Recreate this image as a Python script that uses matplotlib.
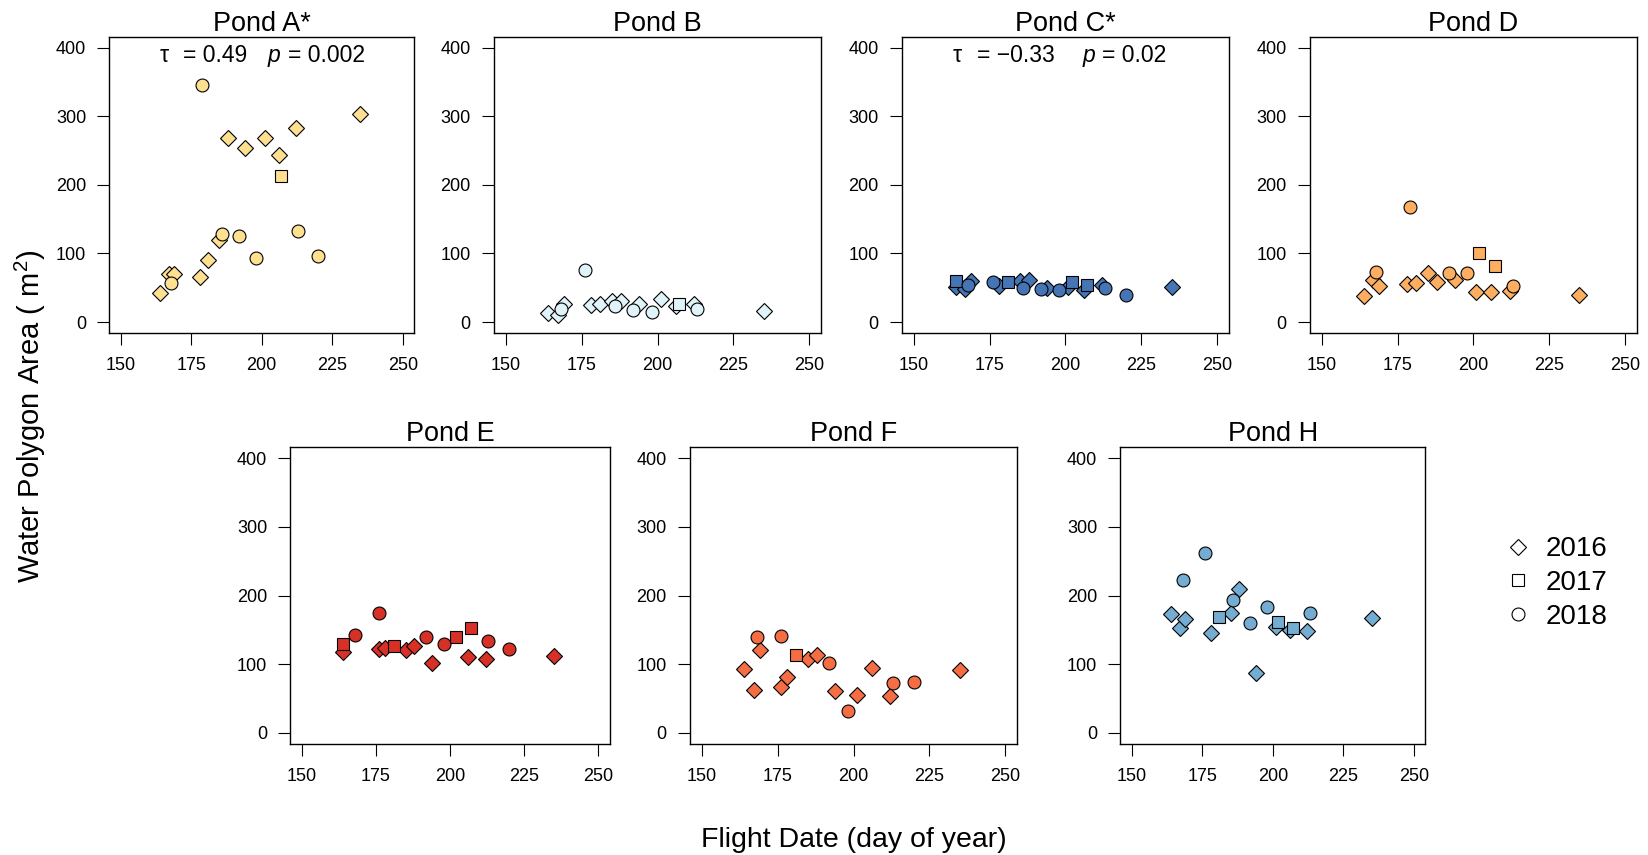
import matplotlib
matplotlib.use("Agg")
import matplotlib.pyplot as plt
from matplotlib.lines import Line2D

plt.rcParams['font.family'] = ['Liberation Sans', 'DejaVu Sans']
plt.rcParams['mathtext.fontset'] = 'custom'
plt.rcParams['mathtext.rm'] = 'Liberation Sans'
plt.rcParams['mathtext.it'] = 'Liberation Sans:italic'
plt.rcParams['mathtext.bf'] = 'Liberation Sans:bold'

# ---------------- data (day of year, water polygon area m^2) ----------------
pondA_d16 = [164, 167, 169, 178, 181, 185, 188, 194, 201, 206, 212, 235]
pondA_v16 = [43, 70, 70, 65, 91, 119, 268, 254, 268, 243, 283, 304]
pondA_d17 = [207]
pondA_v17 = [213]
pondA_d18 = [168, 179, 186, 192, 198, 213, 220]
pondA_v18 = [57, 346, 129, 126, 94, 133, 97]

pondB_d16 = [164, 167, 169, 178, 181, 185, 188, 194, 201, 206, 212, 235]
pondB_v16 = [13, 10, 26, 25, 26, 30, 31, 26, 34, 23, 27, 16]
pondB_d17 = [207]
pondB_v17 = [26]
pondB_d18 = [168, 176, 186, 192, 198, 213]
pondB_v18 = [19, 76, 24, 17, 15, 19]

pondC_d16 = [164, 167, 169, 178, 185, 188, 194, 201, 206, 212, 235]
pondC_v16 = [51, 48, 60, 52, 60, 61, 49, 51, 47, 54, 51]
pondC_d17 = [164, 181, 202, 207]
pondC_v17 = [60, 59, 59, 54]
pondC_d18 = [168, 176, 186, 192, 198, 213, 220]
pondC_v18 = [54, 59, 49, 48, 47, 50, 39]

pondD_d16 = [164, 167, 169, 178, 181, 185, 188, 194, 201, 206, 212, 235]
pondD_v16 = [38, 61, 53, 55, 57, 72, 59, 62, 44, 44, 45, 39]
pondD_d17 = [202, 207]
pondD_v17 = [101, 82]
pondD_d18 = [168, 179, 192, 198, 213]
pondD_v18 = [73, 168, 72, 71, 53]

pondE_d16 = [164, 176, 178, 185, 188, 194, 206, 212, 235]
pondE_v16 = [117, 122, 123, 120, 127, 101, 110, 107, 112]
pondE_d17 = [164, 181, 202, 207]
pondE_v17 = [129, 126, 140, 152]
pondE_d18 = [168, 176, 192, 198, 213, 220]
pondE_v18 = [142, 175, 139, 129, 133, 122]

pondF_d16 = [164, 167, 169, 176, 178, 185, 188, 194, 201, 206, 212, 235]
pondF_v16 = [93, 62, 120, 67, 81, 107, 113, 60, 55, 94, 54, 91]
pondF_d17 = [181]
pondF_v17 = [113]
pondF_d18 = [168, 176, 192, 198, 213, 220]
pondF_v18 = [139, 141, 101, 32, 72, 74]

pondH_d16 = [164, 167, 169, 178, 185, 188, 194, 201, 206, 212, 235]
pondH_v16 = [173, 153, 165, 146, 175, 210, 87, 154, 150, 148, 167]
pondH_d17 = [181, 202, 207]
pondH_v17 = [168, 161, 153]
pondH_d18 = [168, 176, 186, 192, 198, 213]
pondH_v18 = [223, 262, 194, 160, 183, 175]

pond_names = ["Pond A*", "Pond B", "Pond C*", "Pond D", "Pond E", "Pond F", "Pond H"]
pond_colors = ["#FEE090", "#E0F3F8", "#4575B4", "#FDAE61", "#D73027", "#F46D43", "#74ADD1"]
year_labels = ["2016", "2017", "2018"]
year_markers = ["D", "s", "o"]
year_msize = [8.3, 8.6, 9.3]

x_ticks = [150, 175, 200, 225, 250]
y_ticks = [0, 100, 200, 300, 400]

# Kendall annotations
ann_tau = {"Pond A*": "0.49", "Pond C*": "\u22120.33"}
ann_p = {"Pond A*": "0.002", "Pond C*": "0.02"}

pond_series = [
    [(pondA_d16, pondA_v16), (pondA_d17, pondA_v17), (pondA_d18, pondA_v18)],
    [(pondB_d16, pondB_v16), (pondB_d17, pondB_v17), (pondB_d18, pondB_v18)],
    [(pondC_d16, pondC_v16), (pondC_d17, pondC_v17), (pondC_d18, pondC_v18)],
    [(pondD_d16, pondD_v16), (pondD_d17, pondD_v17), (pondD_d18, pondD_v18)],
    [(pondE_d16, pondE_v16), (pondE_d17, pondE_v17), (pondE_d18, pondE_v18)],
    [(pondF_d16, pondF_v16), (pondF_d17, pondF_v17), (pondF_d18, pondF_v18)],
    [(pondH_d16, pondH_v16), (pondH_d17, pondH_v17), (pondH_d18, pondH_v18)],
]

# ---------------- layout (pixel frames: left, right, top, bottom) ----------------
W, H = 1648, 855
frames = [
    (109.4, 414.0, 36.8, 333.0),
    (493.9, 821.4, 36.8, 333.0),
    (901.6, 1229.3, 36.8, 333.0),
    (1309.6, 1637.0, 36.8, 333.0),
    (290.2, 609.8, 447.4, 743.6),
    (689.9, 1017.4, 447.4, 743.6),
    (1120.4, 1425.3, 447.4, 743.6),
]
# annotation x positions (pixels): tau, "= value", p, "= pval"
ann_pos = {
    "Pond A*": (160, 183, 268, 288),
    "Pond C*": (953, 977, 1083, 1102),
}

fig = plt.figure(figsize=(W / 100, H / 100), dpi=100)

for name, col, series, (l, r, t, b) in zip(pond_names, pond_colors, pond_series, frames):
    ax = fig.add_axes([l / W, 1 - b / H, (r - l) / W, (b - t) / H])
    for (d, v), mk, ms in zip(series, year_markers, year_msize):
        ax.plot(d, v, linestyle="none", marker=mk, markersize=ms,
                markerfacecolor=col, markeredgecolor="black", markeredgewidth=0.8)
    ax.set_xlim(146, 254)
    ax.set_ylim(-16, 416)
    ax.set_xticks(x_ticks)
    ax.set_yticks(y_ticks)
    ax.set_xticklabels([str(v) for v in x_ticks])
    ax.set_yticklabels([str(v) for v in y_ticks])
    ax.tick_params(axis="both", direction="out", length=8.6, width=0.8,
                   labelsize=13, colors="black")
    ax.tick_params(axis="x", pad=9)
    ax.tick_params(axis="y", pad=8)
    for sp in ax.spines.values():
        sp.set_linewidth(1.0)
    ax.set_title(name, fontsize=19.5, pad=3.6)
    if name in ann_tau:
        xs = ann_pos[name]
        yb = 1 - 62.0 / H
        fs = 16.5
        fig.text(xs[0] / W, yb, "\u03c4", fontsize=fs, va="baseline", ha="left")
        fig.text(xs[1] / W, yb, "= " + ann_tau[name], fontsize=fs, va="baseline", ha="left")
        fig.text(xs[2] / W, yb, "p", fontsize=fs, style="italic", va="baseline", ha="left")
        fig.text(xs[3] / W, yb, "= " + ann_p[name], fontsize=fs, va="baseline", ha="left")

# axis labels
fig.text(854 / W, 1 - 847 / H, "Flight Date (day of year)", fontsize=20.5,
         ha="center", va="baseline")
fig.text(40 / W, 1 - 416 / H, "Water Polygon Area ( m$^2$)", fontsize=21,
         rotation=90, rotation_mode="anchor", ha="center", va="baseline")

# legend
handles = [Line2D([], [], linestyle="none", marker=mk, markersize=ms,
                  markerfacecolor="white", markeredgecolor="black", markeredgewidth=0.8)
           for mk, ms in zip(year_markers, year_msize)]
fs_leg = 20
fig.legend(handles, year_labels, loc="center left",
           bbox_to_anchor=((1518 - 0.5 * fs_leg / 0.72) / W, 1 - 583 / H),
           frameon=False, fontsize=fs_leg, handlelength=1.0, handletextpad=0.5,
           labelspacing=0.28, borderpad=0, borderaxespad=0)

fig.savefig("out.png", dpi=100)
